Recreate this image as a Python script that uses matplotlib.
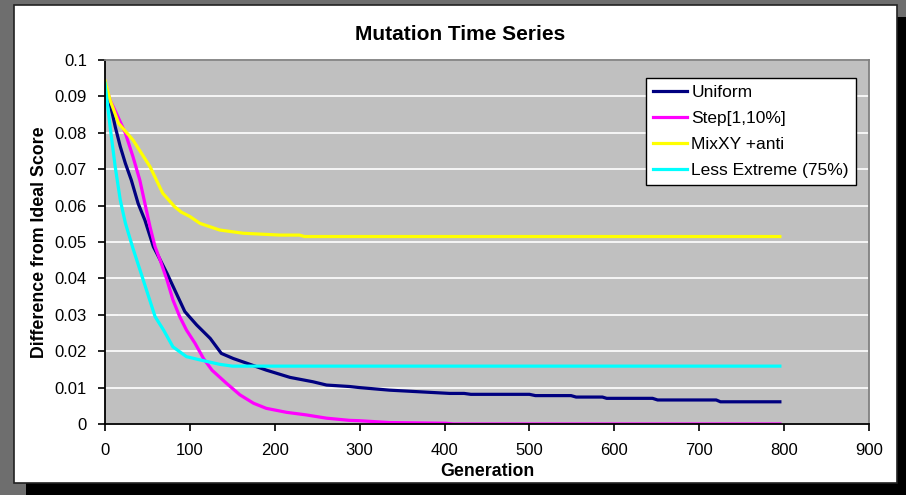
import matplotlib
matplotlib.use("Agg")
import matplotlib.pyplot as plt
from matplotlib.patches import Rectangle
from matplotlib.ticker import FuncFormatter

plt.rcParams['font.family'] = ['Liberation Sans', 'DejaVu Sans']

title = "Mutation Time Series"
x_label = "Generation"
y_label = "Difference from Ideal Score"
series_names = ["Uniform", "Step[1,10%]", "MixXY +anti", "Less Extreme (75%)"]
series_colors = ["#000080", "#FF00FF", "#FFFF00", "#00FFFF"]

uniform_x = [0, 6, 12, 18, 24, 31, 39, 47, 57, 63, 73, 84, 94, 108, 124, 137, 151, 167,
             190, 218, 245, 261, 288, 300, 335, 406, 423, 431, 500, 507, 549, 555, 586,
             591, 645, 651, 720, 725, 795]
uniform_y = [0.0936, 0.0881, 0.0817, 0.0762, 0.0716, 0.0670, 0.0606, 0.0560, 0.0487,
             0.0460, 0.0414, 0.0359, 0.0309, 0.0272, 0.0235, 0.0194, 0.0180, 0.0167,
             0.0148, 0.0128, 0.0116, 0.0107, 0.0103, 0.0100, 0.0093, 0.0084, 0.0084,
             0.00815, 0.00815, 0.0078, 0.0078, 0.0074, 0.0074, 0.00705, 0.00705,
             0.0066, 0.0066, 0.0061, 0.0061]

step_x = [0, 6, 16, 24, 33, 41, 47, 53, 59, 65, 73, 80, 88, 96, 106, 116, 126, 143, 159,
          175, 190, 214, 237, 261, 288, 300, 335, 402, 410, 795]
step_y = [0.0936, 0.0890, 0.0840, 0.0799, 0.0734, 0.0670, 0.0606, 0.0542, 0.0487, 0.0450,
          0.0396, 0.0341, 0.0295, 0.0258, 0.0222, 0.0180, 0.0148, 0.0112, 0.0080, 0.0057,
          0.0043, 0.0032, 0.0025, 0.0016, 0.0010, 0.0009, 0.0004, 0.0002, 0.0, 0.0]

mix_x = [0, 6, 16, 33, 53, 68, 82, 90, 100, 112, 135, 163, 206, 229, 235, 795]
mix_y = [0.0943, 0.0890, 0.0826, 0.0780, 0.0707, 0.0634, 0.0597, 0.0582, 0.0570, 0.0551,
         0.0533, 0.0524, 0.0519, 0.0519, 0.0515, 0.0515]

less_x = [0, 6, 12, 18, 24, 33, 45, 59, 69, 80, 96, 112, 135, 150, 795]
less_y = [0.0936, 0.0817, 0.0707, 0.0615, 0.0552, 0.0482, 0.0396, 0.0295, 0.0258, 0.0212,
          0.0185, 0.0176, 0.0164, 0.0159, 0.0159]

x_ticks = [0, 100, 200, 300, 400, 500, 600, 700, 800, 900]
y_ticks = [0, 0.01, 0.02, 0.03, 0.04, 0.05, 0.06, 0.07, 0.08, 0.09, 0.1]

W, H = 906, 495
fig = plt.figure(figsize=(W / 100, H / 100), dpi=100)
fig.patch.set_facecolor("#6E6E6E")

def fx(px):
    return px / W

def fy(py):
    return 1 - py / H

# shadow and chart frame
fig.patches.append(Rectangle((fx(26), 0), fx(W) - fx(26), fy(17), transform=fig.transFigure,
                             facecolor="black", edgecolor="none", zorder=-2))
fig.patches.append(Rectangle((fx(14), fy(483)), fx(897) - fx(14), fy(5) - fy(483),
                             transform=fig.transFigure, facecolor="white",
                             edgecolor="#222222", linewidth=1.2, zorder=-1))

ax = fig.add_axes([fx(105), fy(424), fx(869) - fx(105), fy(60) - fy(424)])
ax.set_zorder(3)
ax.set_facecolor("#C0C0C0")

all_x = [uniform_x, step_x, mix_x, less_x]
all_y = [uniform_y, step_y, mix_y, less_y]
for xs, ys, name, c in zip(all_x, all_y, series_names, series_colors):
    ax.plot(xs, ys, color=c, linewidth=2.3, label=name, solid_joinstyle='round')

ax.set_xlim(0, 900)
ax.set_ylim(0, 0.1)
ax.set_xticks(x_ticks)
ax.set_yticks(y_ticks)
ax.yaxis.set_major_formatter(FuncFormatter(lambda v, p: "%g" % round(v, 3)))
ax.grid(axis='y', color='white', linewidth=1.2)
ax.set_axisbelow(True)
ax.tick_params(axis='both', direction='out', length=5, width=1.2, color='black',
               labelsize=12, labelcolor='black')
ax.tick_params(axis='x', pad=9)
ax.tick_params(axis='y', pad=8)
for s in ['left', 'bottom']:
    ax.spines[s].set_color('black')
    ax.spines[s].set_linewidth(1.3)
for s in ['top', 'right']:
    ax.spines[s].set_color('#808080')
    ax.spines[s].set_linewidth(1.3)

ax.set_xlabel(x_label, fontsize=12.8, fontweight='bold', labelpad=3)
ax.set_ylabel(y_label, fontsize=12.8, fontweight='bold', labelpad=5)

fig.text(fx(460), fy(34), title, fontsize=15, fontweight='bold', ha='center', va='center')

leg = ax.legend(loc='upper left', bbox_to_anchor=(fx(646), fy(78)), bbox_transform=fig.transFigure,
                borderaxespad=0, fontsize=12.5, frameon=True, fancybox=False, framealpha=1,
                edgecolor='black', handlelength=1.95, handletextpad=0.25, labelspacing=0.62,
                borderpad=0.4)
leg.get_frame().set_linewidth(1.0)

fig.savefig("out.png", dpi=100, facecolor=fig.get_facecolor())
